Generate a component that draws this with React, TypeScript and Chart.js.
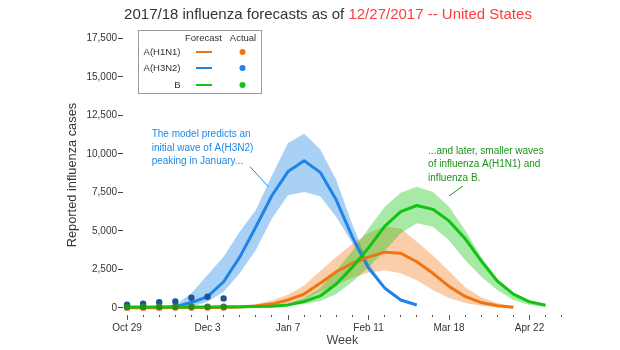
import React, { useEffect, useRef } from "react";
import { Chart, registerables } from "chart.js";

Chart.register(...registerables);

const FONT = "'Liberation Sans', Arial, sans-serif";

// Week tick labels (week index 0 = Oct 29, 2017)
const weekLabels = [
  "Oct 29", "Nov 5", "Nov 12", "Nov 19", "Nov 26", "Dec 3", "Dec 10", "Dec 17", "Dec 24", "Dec 31",
  "Jan 7", "Jan 14", "Jan 21", "Jan 28", "Feb 4", "Feb 11", "Feb 18", "Feb 25", "Mar 4", "Mar 11",
  "Mar 18", "Mar 25", "Apr 1", "Apr 8", "Apr 15", "Apr 22", "Apr 29", "May 6",
];
const labeledWeeks = [0, 5, 10, 15, 20, 25];
const yTickValues = [0, 2500, 5000, 7500, 10000, 12500, 15000, 17500];

// Actual reported cases (weeks 0..6)
const actualH1N1 = [20, 20, 20, 25, 30, 30, 35];
const actualH3N2 = [215, 280, 370, 420, 660, 730, 620];
const actualB = [70, 70, 75, 75, 80, 80, 80];

// Forecasts (median, upper, lower), starting at week 0
const forecastH3N2 = [30, 30, 35, 85, 350, 730, 1700, 3300, 5250, 7300, 8850, 9550, 8800, 7000, 4600, 2600, 1300, 520, 190];
const upperH3N2 = [30, 30, 40, 195, 950, 2140, 3320, 4940, 6350, 8600, 10700, 11300, 10300, 8300, 5400, 2900, 1400, 580, 200];
const lowerH3N2 = [30, 30, 30, 50, 85, 410, 1060, 2250, 3760, 5810, 7320, 7530, 7250, 5900, 4200, 2400, 1250, 480, 180];

const forecastH1N1 = [20, 20, 20, 25, 30, 30, 35, 60, 130, 250, 520, 900, 1600, 2350, 2900, 3300, 3620, 3550, 3000, 2250, 1400, 750, 350, 140, 50];
const upperH1N1 = [20, 20, 20, 25, 30, 30, 40, 100, 250, 480, 850, 1450, 2400, 3300, 4150, 4850, 5300, 5150, 4300, 3400, 2400, 1350, 700, 320, 80];
const lowerH1N1 = [20, 20, 20, 25, 30, 30, 30, 30, 70, 130, 300, 550, 1050, 1500, 1950, 2300, 2450, 2250, 1800, 1170, 650, 320, 150, 60, 20];

const forecastB = [70, 70, 70, 70, 70, 70, 75, 80, 90, 110, 200, 420, 780, 1550, 2650, 3900, 5300, 6250, 6650, 6400, 5650, 4500, 3050, 1750, 900, 400, 180];
const upperB = [70, 70, 70, 70, 70, 70, 75, 90, 110, 150, 300, 650, 1300, 2450, 3700, 5150, 6550, 7470, 7860, 7530, 6560, 5050, 3320, 1810, 970, 450, 200];
const lowerB = [70, 70, 70, 70, 70, 70, 75, 70, 70, 70, 120, 250, 450, 900, 1700, 2650, 3700, 4850, 5490, 5270, 4400, 3110, 2030, 1170, 520, 200, 100];

const seriesNames = ["A(H1N1)", "A(H3N2)", "B"];
const titleMain = "2017/18 influenza forecasts as of ";
const titleAccent = "12/27/2017 -- United States";

const noteH3N2 = ["The model predicts an", "initial wave of A(H3N2)", "peaking in January..."];
const noteLater = ["...and later, smaller waves", "of influenza A(H1N1) and", "influenza B."];
// anchors in data space [week, cases]
const noteH3N2Anchor = [1.53, 11258];
const noteLaterAnchor = [18.7, 10188];
const pointerH3N2 = [[7.64, 9169], [8.78, 7871]];
const pointerLater = [[20.87, 7917], [20.0, 7268]];

const COLORS = {
  h1n1: "#f07412",
  h1n1Band: "rgba(240,120,20,0.36)",
  h1n1Dot: "#e06a10",
  h3n2: "#1e84e6",
  h3n2Band: "rgba(30,132,230,0.38)",
  h3n2Dot: "#1a5596",
  b: "#12c412",
  bBand: "rgba(20,200,20,0.38)",
  bDot: "#1f8f1f",
  h3n2Note: "#1e88e5",
  bNote: "#1a921a",
};

const pts = (arr: number[]) => arr.map((v, i) => ({ x: i, y: v }));

const decorPlugin = {
  id: "decor",
  afterDraw(chart: any) {
    const { ctx } = chart;
    const x = chart.scales.x;
    const y = chart.scales.y;
    ctx.save();

    // Title
    ctx.font = `15px ${FONT}`;
    ctx.textBaseline = "alphabetic";
    ctx.textAlign = "left";
    const w1 = ctx.measureText(titleMain).width;
    const w2 = ctx.measureText(titleAccent).width;
    const tx = 328 - (w1 + w2) / 2;
    ctx.fillStyle = "#333333";
    ctx.fillText(titleMain, tx, 18.5);
    ctx.fillStyle = "#ff3b3b";
    ctx.fillText(titleAccent, tx + w1, 18.5);

    // Legend box
    ctx.fillStyle = "#ffffff";
    ctx.fillRect(138.5, 30.5, 123, 63);
    ctx.strokeStyle = "#9a9a9a";
    ctx.lineWidth = 1;
    ctx.strokeRect(138.5, 30.5, 123, 63);
    ctx.font = `9.5px ${FONT}`;
    ctx.fillStyle = "#333333";
    ctx.textBaseline = "middle";
    ctx.textAlign = "center";
    ctx.fillText("Forecast", 203.5, 38);
    ctx.fillText("Actual", 243, 38);
    const rowY = [52, 68, 85];
    const lineCols = [COLORS.h1n1, COLORS.h3n2, COLORS.b];
    for (let i = 0; i < 3; i++) {
      ctx.textAlign = "right";
      ctx.fillStyle = "#333333";
      ctx.fillText(seriesNames[i], 180.5, rowY[i]);
      ctx.strokeStyle = lineCols[i];
      ctx.lineWidth = 2;
      ctx.beginPath();
      ctx.moveTo(196, rowY[i]);
      ctx.lineTo(212, rowY[i]);
      ctx.stroke();
      ctx.fillStyle = lineCols[i];
      ctx.beginPath();
      ctx.arc(242.5, rowY[i], 3, 0, Math.PI * 2);
      ctx.fill();
    }

    // Annotations
    ctx.font = `10px ${FONT}`;
    ctx.textAlign = "left";
    ctx.textBaseline = "middle";
    const drawNote = (lines: string[], anchor: number[], color: string) => {
      const ax = x.getPixelForValue(anchor[0]);
      const ay = y.getPixelForValue(anchor[1]);
      ctx.fillStyle = color;
      lines.forEach((l, i) => ctx.fillText(l, ax, ay + i * 13.5));
    };
    drawNote(noteH3N2, noteH3N2Anchor, COLORS.h3n2Note);
    drawNote(noteLater, noteLaterAnchor, COLORS.bNote);
    const drawPointer = (p: number[][], color: string) => {
      ctx.strokeStyle = color;
      ctx.lineWidth = 1;
      ctx.beginPath();
      ctx.moveTo(x.getPixelForValue(p[0][0]), y.getPixelForValue(p[0][1]));
      ctx.lineTo(x.getPixelForValue(p[1][0]), y.getPixelForValue(p[1][1]));
      ctx.stroke();
    };
    drawPointer(pointerH3N2, COLORS.h3n2Note);
    drawPointer(pointerLater, COLORS.bNote);

    ctx.restore();
  },
};

function band(upper: number[], lower: number[], color: string, order: number) {
  return [
    {
      label: "upper",
      data: pts(upper),
      borderWidth: 0,
      pointRadius: 0,
      backgroundColor: color,
      fill: "+1",
      order,
      tension: 0,
    },
    {
      label: "lower",
      data: pts(lower),
      borderWidth: 0,
      pointRadius: 0,
      backgroundColor: color,
      fill: false,
      order,
      tension: 0,
    },
  ];
}

function line(values: number[], color: string, order: number) {
  return {
    label: "forecast",
    data: pts(values),
    borderColor: color,
    borderWidth: 3,
    pointRadius: 0,
    fill: false,
    order,
    tension: 0,
    borderJoinStyle: "round" as const,
  };
}

function dots(values: number[], color: string, order: number) {
  return {
    label: "actual",
    data: pts(values),
    showLine: false,
    pointRadius: 3.2,
    pointBackgroundColor: color,
    pointBorderWidth: 0,
    borderColor: color,
    order,
  };
}

export default function App() {
  const canvasRef = useRef<HTMLCanvasElement | null>(null);

  useEffect(() => {
    if (!canvasRef.current) return;
    const chart = new Chart(canvasRef.current, {
      type: "line",
      data: {
        datasets: [
          ...band(upperH3N2, lowerH3N2, COLORS.h3n2Band, 30),
          ...band(upperH1N1, lowerH1N1, COLORS.h1n1Band, 29),
          ...band(upperB, lowerB, COLORS.bBand, 28),
          line(forecastH3N2, COLORS.h3n2, 20),
          line(forecastH1N1, COLORS.h1n1, 19),
          line(forecastB, COLORS.b, 18),
          dots(actualH3N2, COLORS.h3n2Dot, 3),
          dots(actualH1N1, COLORS.h1n1Dot, 2),
          dots(actualB, COLORS.bDot, 1),
        ] as any,
      },
      options: {
        animation: false,
        responsive: true,
        maintainAspectRatio: false,
        layout: { padding: { top: 35.2, left: 65, right: 58.3, bottom: 2 } },
        plugins: {
          legend: { display: false },
          tooltip: { enabled: false },
          title: { display: false },
        },
        font: { family: FONT },
        scales: {
          x: {
            type: "linear",
            min: -0.25,
            max: 27,
            afterBuildTicks: (s: any) => {
              s.ticks = weekLabels.map((_, i) => ({ value: i }));
            },
            afterFit: (s: any) => {
              s.height = 33.1;
            },
            ticks: {
              autoSkip: false,
              maxRotation: 0,
              padding: 2,
              color: "#333333",
              font: { family: FONT, size: 10 },
              callback: (v: any) => (labeledWeeks.includes(Number(v)) ? weekLabels[Number(v)] : ""),
            },
            grid: {
              display: true,
              drawOnChartArea: false,
              drawTicks: true,
              tickLength: 5,
              tickColor: "#555555",
              tickBorderDash: (ctx: any) =>
                ctx.tick && labeledWeeks.includes(ctx.tick.value) ? [] : [2, 20],
            },
            border: { display: false },
            title: {
              display: true,
              text: "Week",
              color: "#444444",
              font: { family: FONT, size: 12.5 },
              padding: { top: 0, bottom: 0 },
            },
          },
          y: {
            type: "linear",
            min: -450,
            max: 17700,
            afterBuildTicks: (s: any) => {
              s.ticks = yTickValues.map((v) => ({ value: v }));
            },
            afterFit: (s: any) => {
              s.width = 58;
            },
            ticks: {
              padding: 1,
              color: "#333333",
              font: { family: FONT, size: 10 },
              callback: (v: any) => Number(v).toLocaleString("en-US"),
            },
            grid: {
              display: true,
              drawOnChartArea: false,
              drawTicks: true,
              tickLength: 5,
              tickColor: "#444444",
            },
            border: { display: false },
            title: {
              display: true,
              text: "Reported influenza cases",
              color: "#333333",
              font: { family: FONT, size: 12.8 },
              padding: { top: 0, bottom: 0 },
            },
          },
        },
      } as any,
      plugins: [decorPlugin],
    });
    return () => chart.destroy();
  }, []);

  return (
    <div style={{ position: "fixed", left: 0, top: 0, width: 620, height: 350, background: "#ffffff" }}>
      <canvas ref={canvasRef} />
    </div>
  );
}
